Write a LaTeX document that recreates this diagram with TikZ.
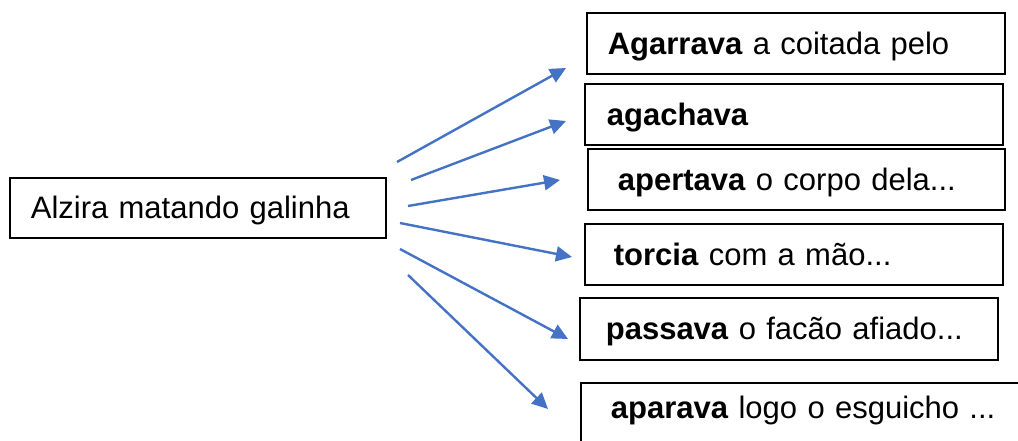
\documentclass[tikz,border=0pt]{standalone}
\usepackage{fontspec}
\setmainfont{Liberation Sans}
\usetikzlibrary{arrows.meta}
\definecolor{arrowblue}{RGB}{68,114,196}
\begin{document}
\begin{tikzpicture}[x=1pt,y=-1pt,
  box/.style={draw=black,line width=1.7pt,anchor=north west,inner ysep=0pt,
    align=left,font=\fontsize{31}{36}\selectfont,text height=22pt,text depth=0pt},
  arr/.style={draw=arrowblue,line width=2.4pt,-{Triangle[length=16pt,width=15pt]}}]
\useasboundingbox (0,0) rectangle (1018,441);
\fill[white] (0,0) rectangle (1018,441);
% source box
\node[box,minimum width=376pt,minimum height=60pt,text width=334pt,inner xsep=21pt] (src) at (9,177) {Alzira matando galinha};
% target boxes
\node[box,minimum width=418pt,minimum height=61pt,text width=376pt,inner xsep=21pt] (t1) at (586,12) {\textbf{Agarrava} a coitada pelo};
\node[box,minimum width=418pt,minimum height=61pt,text width=374pt,inner xsep=22pt] (t2) at (584,83) {\textbf{agachava}};
\node[box,minimum width=417pt,minimum height=61pt,text width=357pt,inner xsep=30pt] (t3) at (587,148) {\textbf{apertava} o corpo dela...};
\node[box,minimum width=418pt,minimum height=61pt,text width=360pt,inner xsep=29pt] (t4) at (584,223) {\textbf{torcia} com a mão...};
\node[box,minimum width=418pt,minimum height=62pt,text width=366pt,inner xsep=26pt] (t5) at (579,297) {\textbf{passava} o facão afiado...};
\node[box,minimum width=460pt,text width=400pt,inner xsep=30pt,text height=36pt,text depth=40pt] (t6) at (580,382) {\textbf{aparava} logo o esguicho ...};
% arrow end points
\coordinate (s1) at (397,162); \coordinate (e1) at (566,68);
\coordinate (s2) at (411,180); \coordinate (e2) at (566,121);
\coordinate (s3) at (408,206); \coordinate (e3) at (560,180);
\coordinate (s4) at (400,223); \coordinate (e4) at (572,257);
\coordinate (s5) at (400,249); \coordinate (e5) at (568,339);
\coordinate (s6) at (408,275); \coordinate (e6) at (548,409);
\draw[arr] (s1) -- (e1);
\draw[arr] (s2) -- (e2);
\draw[arr] (s3) -- (e3);
\draw[arr] (s4) -- (e4);
\draw[arr] (s5) -- (e5);
\draw[arr] (s6) -- (e6);
\end{tikzpicture}
\end{document}
